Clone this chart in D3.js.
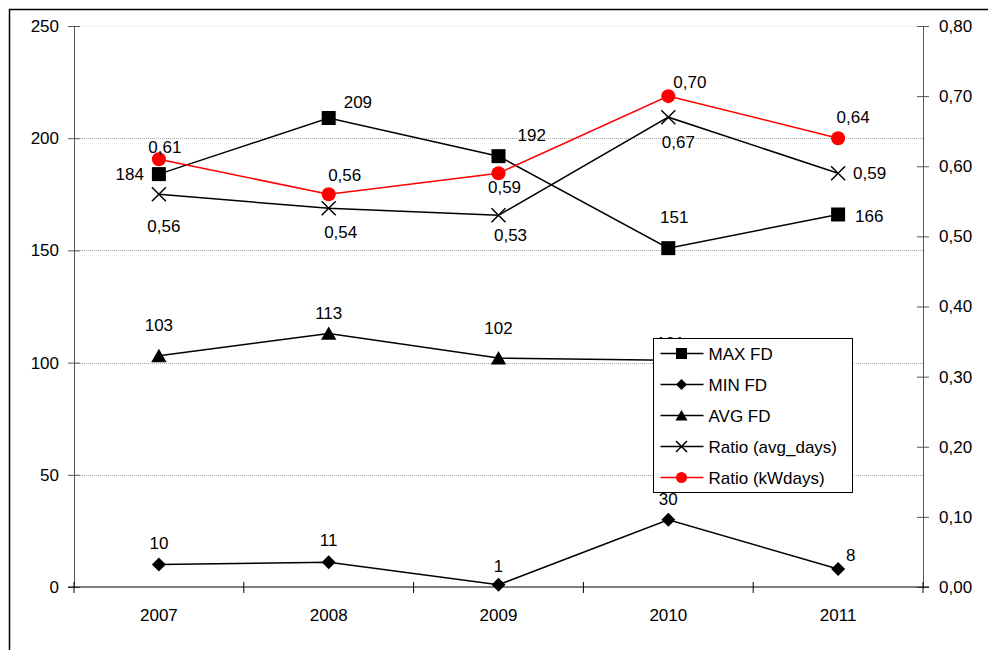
<!DOCTYPE html>
<html>
<head>
<meta charset="utf-8">
<script src="https://cdn.jsdelivr.net/npm/d3@7"></script>
<style>
  html, body { margin: 0; padding: 0; background: #fff; }
  svg text { font-family: "Liberation Sans", Arial, sans-serif; font-size: 17px; fill: #000; }
</style>
</head>
<body>
<svg id="chart" width="988" height="650"></svg>
<script>
// ---- data ----
const years = ["2007", "2008", "2009", "2010", "2011"];
const maxFD = [184, 209, 192, 151, 166];
const minFD = [10, 11, 1, 30, 8];
const avgFD = [103, 113, 102, 101, 99];
const ratioAvgDays = [0.56, 0.54, 0.53, 0.67, 0.59];
const ratioKWdays = [0.61, 0.56, 0.59, 0.70, 0.64];
const leftTicks = [0, 50, 100, 150, 200, 250];
const rightTicks = [0, 0.1, 0.2, 0.3, 0.4, 0.5, 0.6, 0.7, 0.8];

// value-label placement per point: [dx, dy, anchor]
const maxLabelPos = [[-15, 6, "end"], [15, -10, "start"], [19, -15, "start"], [6, -25, "middle"], [17, 8, "start"]];
const minLabelPos = [[0, -16, "middle"], [0, -16, "middle"], [0, -13, "middle"], [0, -15, "middle"], [8, -8, "start"]];
const avgLabelPos = [[0, -25, "middle"], [0, -14, "middle"], [0, -24, "middle"], [2, -11, "middle"], [4, -15, "middle"]];
const avgDaysLabelPos = [[5, 38, "middle"], [12, 30, "middle"], [12, 26, "middle"], [10, 31, "middle"], [15, 6, "start"]];
const kwLabelPos = [[6, -6, "middle"], [16, -13, "middle"], [6, 20, "middle"], [5, -8, "start"], [15, -15, "middle"]];

const svg = d3.select("#chart");
const plot = { left: 74, right: 923, top: 26, bottom: 587 };

const x = d3.scaleBand().domain(years).range([plot.left, plot.right]);
const cx = d => x(d) + x.bandwidth() / 2;
const yL = d3.scaleLinear().domain([0, 250]).range([plot.bottom, plot.top]);
const yR = d3.scaleLinear().domain([0, 0.8]).range([plot.bottom, plot.top]);
const fmtR = v => d3.format(".2f")(v).replace(".", ",");

// outer frame
svg.append("rect").attr("x", 9.5).attr("y", 9.5).attr("width", 1000).attr("height", 700)
  .attr("fill", "none").attr("stroke", "#000").attr("stroke-width", 1.5);

// horizontal gridlines
svg.append("g").selectAll("line").data(leftTicks.filter(t => t > 0)).join("line")
  .attr("x1", plot.left).attr("x2", plot.right)
  .attr("y1", d => Math.round(yL(d)) + 0.5).attr("y2", d => Math.round(yL(d)) + 0.5)
  .attr("stroke", d => d === 250 ? "#e4e4e4" : "#a8a8a8").attr("stroke-dasharray", "1,1");

// left axis
const gL = svg.append("g").attr("transform", `translate(${plot.left},0)`)
  .call(d3.axisLeft(yL).tickValues(leftTicks).tickSizeInner(6).tickSizeOuter(0).tickPadding(8));
gL.selectAll(".tick line").attr("x2", 6).attr("x1", -6);
gL.select(".domain").attr("stroke", "#555");
gL.selectAll(".tick line").attr("stroke", "#555");
gL.selectAll(".tick text").attr("x", -15).style("font-size", "17px").style("font-family", "Liberation Sans, Arial, sans-serif");

// right axis
const gR = svg.append("g").attr("transform", `translate(${plot.right},0)`)
  .call(d3.axisRight(yR).tickValues(rightTicks).tickFormat(fmtR).tickSizeInner(6).tickSizeOuter(0));
gR.selectAll(".tick line").attr("x1", -6).attr("x2", 6);
gR.select(".domain").attr("stroke", "#555");
gR.selectAll(".tick line").attr("stroke", "#555");
gR.selectAll(".tick text").attr("x", 16).style("font-size", "17px").style("font-family", "Liberation Sans, Arial, sans-serif");

// bottom axis with ticks at category boundaries
const gB = svg.append("g").attr("transform", `translate(0,${plot.bottom})`);
gB.append("line").attr("x1", plot.left - 6).attr("x2", plot.right + 6)
  .attr("stroke", "#000").attr("stroke-width", 1.2);
const bounds = years.map(d => x(d)).concat([x(years[years.length - 1]) + x.bandwidth()]);
gB.selectAll("line.tk").data(bounds).join("line").attr("class", "tk")
  .attr("x1", d => d).attr("x2", d => d).attr("y1", -5).attr("y2", 6).attr("stroke", "#000");
gB.selectAll("text").data(years).join("text")
  .attr("x", d => cx(d)).attr("y", 34).attr("text-anchor", "middle").text(d => d);

// marker shapes
const markerPath = {
  square: s => `M${-s/2},${-s/2}h${s}v${s}h${-s}Z`,
  diamond: s => `M0,${-s/2}L${s/2},0L0,${s/2}L${-s/2},0Z`,
  triangle: s => `M0,${-s*0.5}L${s*0.55},${s*0.45}L${-s*0.55},${s*0.45}Z`,
  cross: s => `M${-s/2},${-s/2}L${s/2},${s/2}M${s/2},${-s/2}L${-s/2},${s/2}`,
  circle: s => `M${s/2},0A${s/2},${s/2} 0 1 1 ${-s/2},0A${s/2},${s/2} 0 1 1 ${s/2},0Z`
};

const series = [
  { name: "MAX FD", values: maxFD, scale: yL, color: "#000", marker: "square", fmt: d => d, pos: maxLabelPos },
  { name: "MIN FD", values: minFD, scale: yL, color: "#000", marker: "diamond", fmt: d => d, pos: minLabelPos },
  { name: "AVG FD", values: avgFD, scale: yL, color: "#000", marker: "triangle", fmt: d => d, pos: avgLabelPos },
  { name: "Ratio (avg_days)", values: ratioAvgDays, scale: yR, color: "#000", marker: "cross", fmt: fmtR, pos: avgDaysLabelPos },
  { name: "Ratio (kWdays)", values: ratioKWdays, scale: yR, color: "#ff0000", marker: "circle", fmt: fmtR, pos: kwLabelPos }
];

function drawMarker(g, type, s, color) {
  const p = g.append("path").attr("d", markerPath[type](s));
  if (type === "cross") p.attr("fill", "none").attr("stroke", color).attr("stroke-width", 1.5);
  else p.attr("fill", color).attr("stroke", "none");
}

const line = d3.line();
series.forEach(s => {
  const pts = s.values.map((v, i) => [cx(years[i]), s.scale(v)]);
  svg.append("path").attr("d", line(pts)).attr("fill", "none")
    .attr("stroke", s.color).attr("stroke-width", 1.5);
  pts.forEach(p => {
    const g = svg.append("g").attr("transform", `translate(${p[0]},${p[1]})`);
    drawMarker(g, s.marker, 14, s.color);
  });
  s.values.forEach((v, i) => {
    const o = s.pos[i];
    svg.append("text").attr("x", pts[i][0] + o[0]).attr("y", pts[i][1] + o[1])
      .attr("text-anchor", o[2]).text(s.fmt(v));
  });
});

// legend (drawn last so it sits over the marks beneath it)
const lg = svg.append("g").attr("transform", "translate(653.5,338.5)");
lg.append("rect").attr("width", 199).attr("height", 154)
  .attr("fill", "#fff").attr("stroke", "#000").attr("stroke-width", 1);
series.forEach((s, i) => {
  const yy = 15 + i * 31;
  lg.append("line").attr("x1", 7).attr("x2", 50).attr("y1", yy).attr("y2", yy)
    .attr("stroke", s.color).attr("stroke-width", 1.5);
  const g = lg.append("g").attr("transform", `translate(28,${yy})`);
  drawMarker(g, s.marker, 11, s.color);
  lg.append("text").attr("x", 55).attr("y", yy + 6).text(s.name);
});
</script>
</body>
</html>
